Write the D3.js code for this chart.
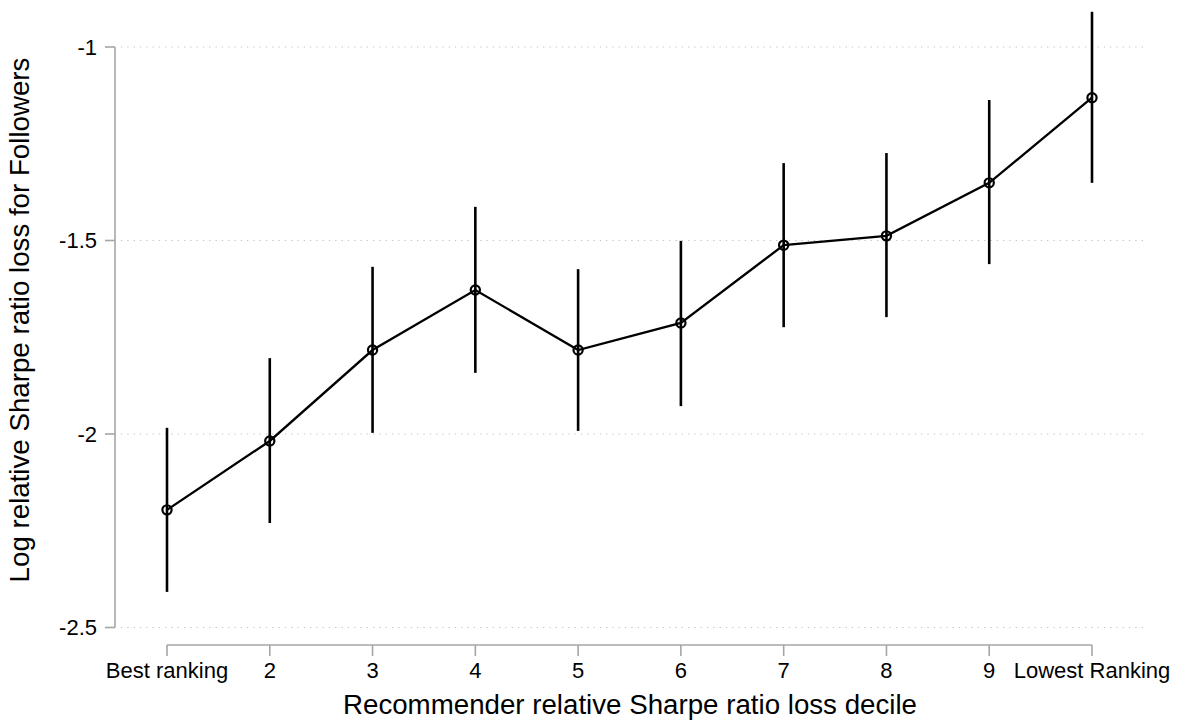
<!DOCTYPE html>
<html>
<head>
    <meta charset="utf-8">
    <title>Log relative Sharpe ratio loss for Followers</title>
    <script src="https://d3js.org/d3.v7.min.js"></script>
    <style>
        body { margin: 0; background: #fff; }
        svg { font-family: "Liberation Sans", Arial, sans-serif; }
        .axis-line, .tick-line { stroke: #a6a6a6; stroke-width: 1.6; fill: none; }
        .grid { stroke: #c4c4c4; stroke-width: 1.2; stroke-dasharray: 1.3,5; }
        .tick-label { font-size: 22px; fill: #000; }
        .axis-title { font-size: 27.7px; fill: #000; }
    </style>
</head>
<body>
    <svg width="1179" height="724"></svg>
    <script>
        // deciles and estimates with 95% confidence bounds
        var deciles = [1, 2, 3, 4, 5, 6, 7, 8, 9, 10];
        var xTickLabels = ["Best ranking", "2", "3", "4", "5", "6", "7", "8", "9", "Lowest Ranking"];
        var estimates = [-2.196, -2.018, -1.783, -1.628, -1.783, -1.713, -1.512, -1.488, -1.351, -1.131];
        var upper = [-1.984, -1.804, -1.568, -1.413, -1.574, -1.501, -1.300, -1.274, -1.137, -0.909];
        var lower = [-2.408, -2.230, -1.997, -1.842, -1.992, -1.928, -1.724, -1.698, -1.561, -1.351];
        var yTicks = [-2.5, -2, -1.5, -1];

        var svg = d3.select("svg");

        var x = d3.scalePoint().domain(deciles).range([167, 1092]);
        var y = d3.scaleLinear().domain([-2.5, -1]).range([627.5, 47]);

        var data = deciles.map(function(d, i) {
            return {decile: d, est: estimates[i], hi: upper[i], lo: lower[i]};
        });

        // dotted gridlines
        svg.append("g").selectAll("line")
            .data(yTicks)
            .enter().append("line")
            .attr("class", "grid")
            .attr("x1", 121).attr("x2", 1145)
            .attr("y1", d => y(d)).attr("y2", d => y(d));

        // y axis
        var yAxisX = 115;
        svg.append("line").attr("class", "axis-line")
            .attr("x1", yAxisX).attr("x2", yAxisX)
            .attr("y1", y(-1)).attr("y2", y(-2.5));
        var yt = svg.append("g").selectAll("g")
            .data(yTicks)
            .enter().append("g")
            .attr("transform", d => `translate(0,${y(d)})`);
        yt.append("line").attr("class", "tick-line")
            .attr("x1", yAxisX - 10).attr("x2", yAxisX);
        yt.append("text").attr("class", "tick-label")
            .attr("x", 97).attr("dy", "0.35em")
            .attr("text-anchor", "end")
            .text(d => String(d));

        // x axis
        var xAxisY = 645;
        svg.append("line").attr("class", "axis-line")
            .attr("x1", x(1)).attr("x2", x(10))
            .attr("y1", xAxisY).attr("y2", xAxisY);
        var xt = svg.append("g").selectAll("g")
            .data(deciles)
            .enter().append("g")
            .attr("transform", d => `translate(${x(d)},${xAxisY})`);
        xt.append("line").attr("class", "tick-line")
            .attr("y1", 0).attr("y2", 11);
        xt.append("text").attr("class", "tick-label")
            .attr("y", 32.5)
            .attr("text-anchor", "middle")
            .text((d, i) => xTickLabels[i]);

        // axis titles
        svg.append("text").attr("class", "axis-title")
            .attr("x", 630).attr("y", 714)
            .attr("text-anchor", "middle")
            .text("Recommender relative Sharpe ratio loss decile");
        svg.append("text").attr("class", "axis-title")
            .attr("transform", "translate(29,320) rotate(-90)")
            .attr("text-anchor", "middle")
            .text("Log relative Sharpe ratio loss for Followers");

        // confidence intervals
        svg.append("g").selectAll("line")
            .data(data)
            .enter().append("line")
            .attr("x1", d => x(d.decile)).attr("x2", d => x(d.decile))
            .attr("y1", d => y(d.hi)).attr("y2", d => y(d.lo))
            .attr("stroke", "#000").attr("stroke-width", 2.6);

        // connecting line
        svg.append("path")
            .datum(data)
            .attr("fill", "none")
            .attr("stroke", "#000")
            .attr("stroke-width", 2.3);
        svg.select("path")
            .attr("d", d3.line().x(d => x(d.decile)).y(d => y(d.est)));

        // hollow markers
        svg.append("g").selectAll("circle")
            .data(data)
            .enter().append("circle")
            .attr("cx", d => x(d.decile)).attr("cy", d => y(d.est))
            .attr("r", 4.6)
            .attr("fill", "none")
            .attr("stroke", "#000")
            .attr("stroke-width", 2.2);
    </script>
</body>
</html>
